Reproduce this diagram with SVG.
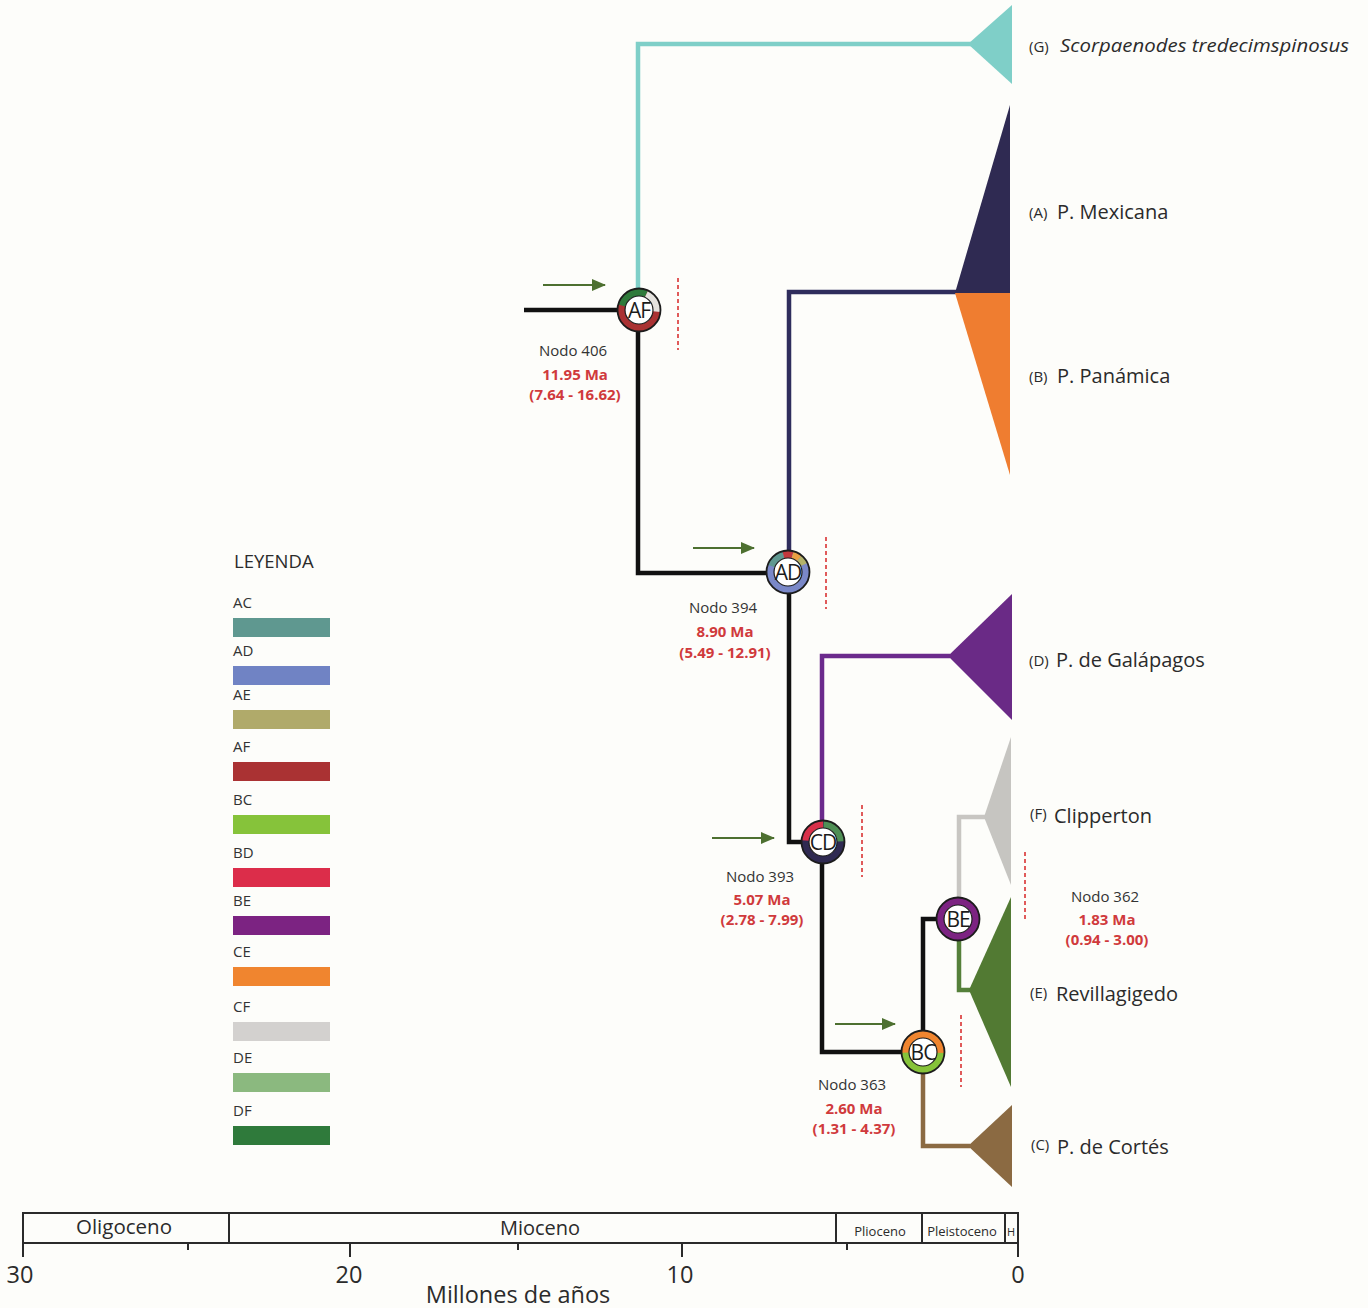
<svg xmlns="http://www.w3.org/2000/svg" width="1368" height="1308" viewBox="0 0 1368 1308">
<defs>
<style>
text{font-family:"Open Sans","Noto Sans","Liberation Sans",sans-serif;fill:#2b2b2b}
.br{fill:none;stroke-width:4.5;stroke-linejoin:miter;stroke-linecap:butt}
.blk{stroke:#111}
.nl{font-size:15px;text-anchor:middle;fill:#333}
.ma{font-size:15px;font-weight:bold;text-anchor:middle;fill:#d03a3c}
.tx{font-size:20px}
.tl{font-size:15px}
.lg{font-size:15px;fill:#333}
.seg{fill:none;stroke-width:7.5}
.out{fill:none;stroke:#1c1c1c;stroke-width:1.8}
.inn{fill:#fff;stroke:#1c1c1c;stroke-width:1.2}
.nt{font-size:21px;text-anchor:middle;fill:#1c1c1c;letter-spacing:-1px}
.dash{stroke:#e05a5a;stroke-width:2;stroke-dasharray:4 3;fill:none}
.arr{stroke:#4d7030;stroke-width:2.2;fill:none}
.ax{stroke:#2a2a2a;stroke-width:2;fill:none}
.ep{text-anchor:middle}
</style>
<marker id="ah" viewBox="0 0 14 12" refX="13" refY="6" markerWidth="14" markerHeight="12" markerUnits="userSpaceOnUse" orient="auto">
<path d="M0,0 L14,6 L0,12 Z" fill="#4d7030"/>
</marker>
</defs>
<rect width="1368" height="1308" fill="#fdfdfa"/>

<g id="connectors">
<path class="br blk" d="M524,310 H638"/>
<path class="br" stroke="#7fcfc8" d="M638,310 V44 H972"/>
<path class="br blk" d="M638,310 V573 H789"/>
<path class="br" stroke="#2f2d5c" d="M789,573 V292 H957"/>
<path class="br blk" d="M789,573 V842 H823"/>
<path class="br" stroke="#6b2a8c" d="M822,842 V656 H950"/>
<path class="br blk" d="M822,842 V1052 H923"/>
<path class="br blk" d="M923,1052 V919 H958"/>
<path class="br" stroke="#c8c6c2" d="M959,919 V817 H986"/>
<path class="br" stroke="#55803a" d="M959,919 V990 H972"/>
<path class="br" stroke="#8b6a42" d="M923,1052 V1146 H970"/>
<line class="arr" x1="543" y1="285" x2="605" y2="285" marker-end="url(#ah)"/>
<line class="arr" x1="693" y1="548" x2="754" y2="548" marker-end="url(#ah)"/>
<line class="arr" x1="712" y1="838" x2="774" y2="838" marker-end="url(#ah)"/>
<line class="arr" x1="835" y1="1024" x2="895" y2="1024" marker-end="url(#ah)"/>
<line class="dash" x1="678" y1="278" x2="678" y2="350"/>
<line class="dash" x1="826" y1="537" x2="826" y2="609"/>
<line class="dash" x1="862" y1="805" x2="862" y2="877"/>
<line class="dash" x1="961" y1="1015" x2="961" y2="1087"/>
<line class="dash" x1="1025" y1="852" x2="1025" y2="922"/>
</g>

<g id="clade-G"><polygon points="968,44 1012,5 1012,84" fill="#7fcfc8"/><text x="1029" y="52" class="tl">(G)</text><text x="1060" y="52" font-size="19" font-style="italic" textLength="289" lengthAdjust="spacingAndGlyphs">Scorpaenodes tredecimspinosus</text></g>
<g id="clade-A"><polygon points="955,293 1010,105 1010,293" fill="#2f2a52"/><text x="1029" y="218" class="tl">(A)</text><text x="1057" y="219" class="tx">P. Mexicana</text></g>
<g id="clade-B"><polygon points="955,293 1010,293 1010,475" fill="#ef7d30"/><text x="1029" y="382" class="tl">(B)</text><text x="1057" y="383" class="tx">P. Panámica</text></g>
<g id="clade-D"><polygon points="948,656 1012,594 1012,720" fill="#6a2a86"/><text x="1029" y="666" class="tl">(D)</text><text x="1056" y="667" class="tx">P. de Galápagos</text></g>
<g id="clade-F"><polygon points="984,817 1011,737 1011,885" fill="#c6c5c1"/><text x="1030" y="819" class="tl">(F)</text><text x="1054" y="823" class="tx">Clipperton</text></g>
<g id="clade-E"><polygon points="969,990 1011,897 1011,1087" fill="#527a33"/><text x="1030" y="998" class="tl">(E)</text><text x="1056" y="1001" class="tx">Revillagigedo</text></g>
<g id="clade-C"><polygon points="968,1146 1012,1105 1012,1187" fill="#8b6a42"/><text x="1031" y="1150" class="tl">(C)</text><text x="1057" y="1154" class="tx">P. de Cortés</text></g>

<g id="node-406">
<circle cx="639" cy="310" r="17.75" class="seg" stroke="#aa3233"/>
<circle cx="639" cy="310" r="17.75" class="seg" stroke="#2f7a3b" pathLength="360" stroke-dasharray="100 260" transform="rotate(195 639 310)"/>
<circle cx="639" cy="310" r="17.75" class="seg" stroke="#e4e2de" pathLength="360" stroke-dasharray="70 290" transform="rotate(295 639 310)"/>
<circle cx="639" cy="310" r="21.5" class="out"/><circle cx="639" cy="310" r="14" class="inn"/>
<text x="639" y="318" class="nt">AF</text>
<text x="573" y="356" class="nl">Nodo 406</text>
<text x="575" y="380" class="ma">11.95 Ma</text>
<text x="575" y="400" class="ma">(7.64 - 16.62)</text>
</g>

<g id="node-394">
<circle cx="788" cy="572" r="17.75" class="seg" stroke="#7a88c8"/>
<circle cx="788" cy="572" r="17.75" class="seg" stroke="#5f9890" pathLength="360" stroke-dasharray="55 305" transform="rotate(200 788 572)"/>
<circle cx="788" cy="572" r="17.75" class="seg" stroke="#c2383d" pathLength="360" stroke-dasharray="30 330" transform="rotate(255 788 572)"/>
<circle cx="788" cy="572" r="17.75" class="seg" stroke="#e9a043" pathLength="360" stroke-dasharray="25 335" transform="rotate(285 788 572)"/>
<circle cx="788" cy="572" r="17.75" class="seg" stroke="#b3b36a" pathLength="360" stroke-dasharray="25 335" transform="rotate(310 788 572)"/>
<circle cx="788" cy="572" r="21.5" class="out"/><circle cx="788" cy="572" r="14" class="inn"/>
<text x="788" y="580" class="nt">AD</text>
<text x="723" y="613" class="nl">Nodo 394</text>
<text x="725" y="637" class="ma">8.90 Ma</text>
<text x="725" y="658" class="ma">(5.49 - 12.91)</text>
</g>

<g id="node-393">
<circle cx="823" cy="842" r="17.75" class="seg" stroke="#2f2a52"/>
<circle cx="823" cy="842" r="17.75" class="seg" stroke="#d8314a" pathLength="360" stroke-dasharray="85 275" transform="rotate(185 823 842)"/>
<circle cx="823" cy="842" r="17.75" class="seg" stroke="#4f8f55" pathLength="360" stroke-dasharray="86 274" transform="rotate(272 823 842)"/>
<circle cx="823" cy="842" r="21.5" class="out"/><circle cx="823" cy="842" r="14" class="inn"/>
<text x="823" y="850" class="nt">CD</text>
<text x="760" y="882" class="nl">Nodo 393</text>
<text x="762" y="905" class="ma">5.07 Ma</text>
<text x="762" y="925" class="ma">(2.78 - 7.99)</text>
</g>

<g id="node-363">
<circle cx="923" cy="1052" r="17.75" class="seg" stroke="#86c33a"/>
<circle cx="923" cy="1052" r="17.75" class="seg" stroke="#f0852f" pathLength="360" stroke-dasharray="185 175" transform="rotate(178 923 1052)"/>
<circle cx="923" cy="1052" r="21.5" class="out"/><circle cx="923" cy="1052" r="14" class="inn"/>
<text x="923" y="1060" class="nt">BC</text>
<text x="852" y="1090" class="nl">Nodo 363</text>
<text x="854" y="1114" class="ma">2.60 Ma</text>
<text x="854" y="1134" class="ma">(1.31 - 4.37)</text>
</g>

<g id="node-362">
<circle cx="958" cy="919" r="17.75" class="seg" stroke="#7c2382"/>
<circle cx="958" cy="919" r="21.5" class="out"/><circle cx="958" cy="919" r="14" class="inn"/>
<text x="958" y="927" class="nt">BE</text>
<text x="1105" y="902" class="nl">Nodo 362</text>
<text x="1107" y="925" class="ma">1.83 Ma</text>
<text x="1107" y="945" class="ma">(0.94 - 3.00)</text>
</g>

<g id="legend">
<text x="234" y="568" font-size="18.5" fill="#333">LEYENDA</text>
<text x="233" y="608" class="lg">AC</text><rect x="233" y="618" width="97" height="19" fill="#5f9890"/>
<text x="233" y="656" class="lg">AD</text><rect x="233" y="666" width="97" height="19" fill="#7083c4"/>
<text x="233" y="700" class="lg">AE</text><rect x="233" y="710" width="97" height="19" fill="#b0aa6a"/>
<text x="233" y="752" class="lg">AF</text><rect x="233" y="762" width="97" height="19" fill="#aa3233"/>
<text x="233" y="805" class="lg">BC</text><rect x="233" y="815" width="97" height="19" fill="#86c33a"/>
<text x="233" y="858" class="lg">BD</text><rect x="233" y="868" width="97" height="19" fill="#dc2d4a"/>
<text x="233" y="906" class="lg">BE</text><rect x="233" y="916" width="97" height="19" fill="#7c2382"/>
<text x="233" y="957" class="lg">CE</text><rect x="233" y="967" width="97" height="19" fill="#f0852f"/>
<text x="233" y="1012" class="lg">CF</text><rect x="233" y="1022" width="97" height="19" fill="#d3d1cf"/>
<text x="233" y="1063" class="lg">DE</text><rect x="233" y="1073" width="97" height="19" fill="#8bb97f"/>
<text x="233" y="1116" class="lg">DF</text><rect x="233" y="1126" width="97" height="19" fill="#2f7a3b"/>
</g>

<g id="timescale">
<rect x="23" y="1213" width="995" height="30" class="ax"/>
<line x1="229" y1="1213" x2="229" y2="1243" class="ax"/>
<line x1="836" y1="1213" x2="836" y2="1243" class="ax"/>
<line x1="922" y1="1213" x2="922" y2="1243" class="ax"/>
<line x1="1005" y1="1213" x2="1005" y2="1243" class="ax"/>
<line x1="23" y1="1243" x2="23" y2="1257" class="ax"/>
<line x1="350" y1="1243" x2="350" y2="1257" class="ax"/>
<line x1="682" y1="1243" x2="682" y2="1257" class="ax"/>
<line x1="1018" y1="1243" x2="1018" y2="1257" class="ax"/>
<line x1="188" y1="1243" x2="188" y2="1250" class="ax"/>
<line x1="518" y1="1243" x2="518" y2="1250" class="ax"/>
<line x1="847" y1="1243" x2="847" y2="1250" class="ax"/>
<text x="124" y="1234" font-size="20.5" class="ep">Oligoceno</text>
<text x="540" y="1235" font-size="20" class="ep">Mioceno</text>
<text x="880" y="1236" font-size="13" class="ep">Plioceno</text>
<text x="962" y="1236" font-size="13" class="ep">Pleistoceno</text>
<text x="1011" y="1236" font-size="11" class="ep">H</text>
<text x="20" y="1283" font-size="23.5" class="ep">30</text>
<text x="349" y="1283" font-size="23.5" class="ep">20</text>
<text x="680" y="1283" font-size="23.5" class="ep">10</text>
<text x="1018" y="1283" font-size="23.5" class="ep">0</text>
<text x="518" y="1303" font-size="23.5" class="ep">Millones de años</text>
</g>
</svg>
